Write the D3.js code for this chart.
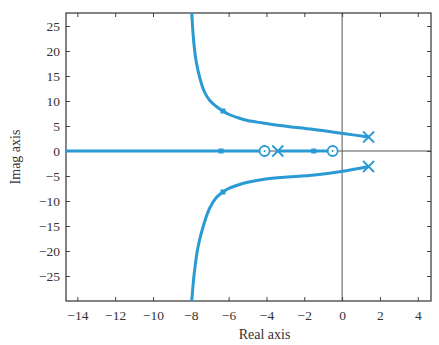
<!DOCTYPE html>
<html><head><meta charset="utf-8">
<script src="https://cdn.jsdelivr.net/npm/d3@7"></script>
<style>
html,body{margin:0;padding:0;background:#fff;}
svg text{font-family:"Liberation Serif","DejaVu Serif",serif;fill:#333;}
</style></head>
<body>
<svg id="chart" width="439" height="345"></svg>
<script>
// ---- data ----
const xTicks = [-14,-12,-10,-8,-6,-4,-2,0,2,4];
const yTicks = [-25,-20,-15,-10,-5,0,5,10,15,20,25];
const upperRe = [-7.95,-7.85,-7.72,-7.55,-7.3,-7.0,-6.65,-6.3,-6.0,-5.5,-5.0,-4.2,-3.3,-1.5,0.05,1.4];
const upperIm = [27.6,22,18,15,12,10.1,8.9,8.0,7.35,6.65,6.1,5.6,5.1,4.3,3.5,2.8];
const lowerRe = [-7.95,-7.82,-7.62,-7.3,-7.0,-6.65,-6.3,-6.0,-5.5,-4.93,-4.2,-3.2,-1.45,-0.05,1.4];
const lowerIm = [-30,-24.5,-19.2,-14.5,-11.4,-9.3,-8.2,-7.5,-6.8,-6.2,-5.7,-5.3,-4.8,-4.1,-3.1];
const realBranch1Re = [-14.6,-4.1];
const realBranch2Re = [-3.4,-0.5];
const poleRe = [1.4,1.4,-3.4];
const poleIm = [2.8,-3.1,0];
const zeroRe = [-4.1,-0.5];
const zeroIm = [0,0];
const gainRe = [-6.3,-6.3,-6.4,-1.5];
const gainIm = [8.0,-8.2,0,0];

// ---- layout ----
const svg = d3.select("#chart");
const L = 66, R = 431, T = 13, B = 301;
const x = d3.scaleLinear().domain([-14.6,4.7]).range([L,R]);
const y = d3.scaleLinear().domain([-30,27.6]).range([B,T]);
const blue = "#2a9ad4";

svg.append("defs").append("clipPath").attr("id","clip")
  .append("rect").attr("x",L).attr("y",T).attr("width",R-L).attr("height",B-T);

// zero axes
svg.append("line").attr("x1",x(0)).attr("x2",x(0)).attr("y1",T).attr("y2",B)
  .attr("stroke","#555").attr("stroke-width",1);
svg.append("line").attr("x1",L).attr("x2",R).attr("y1",y(0)).attr("y2",y(0))
  .attr("stroke","#555").attr("stroke-width",1);

// axes
const tickLen = 4;
const gx = svg.append("g").attr("transform",`translate(0,${B})`)
  .call(d3.axisBottom(x).tickValues(xTicks).tickSize(-tickLen).tickPadding(9)
    .tickFormat(d => d<0 ? "\u2212"+Math.abs(d) : d));
const gxt = svg.append("g").attr("transform",`translate(0,${T})`)
  .call(d3.axisTop(x).tickValues(xTicks).tickSize(-tickLen).tickFormat(""));
const gy = svg.append("g").attr("transform",`translate(${L},0)`)
  .call(d3.axisLeft(y).tickValues(yTicks).tickSize(-tickLen).tickPadding(6)
    .tickFormat(d => d<0 ? "\u2212"+Math.abs(d) : d));
const gyr = svg.append("g").attr("transform",`translate(${R},0)`)
  .call(d3.axisRight(y).tickValues(yTicks).tickSize(-tickLen).tickFormat(""));
[gx,gxt,gy,gyr].forEach(g=>{
  g.select(".domain").remove();
  g.selectAll(".tick line").attr("stroke","#444");
  g.selectAll("text").attr("font-size",13.5).attr("fill","#333")
    .style("font-family","'Liberation Serif',serif");
});
svg.append("rect").attr("x",L).attr("y",T).attr("width",R-L).attr("height",B-T)
  .attr("fill","none").attr("stroke","#333").attr("stroke-width",1.2);

// locus branches
const plot = svg.append("g").attr("clip-path","url(#clip)");
const branches = [
  d3.zip(upperRe, upperIm),
  d3.zip(lowerRe, lowerIm),
  realBranch1Re.map(r=>[r,0]),
  realBranch2Re.map(r=>[r,0])
];
const line2 = d3.line().x(d=>x(d[0])).y(d=>y(d[1])).curve(d3.curveCatmullRom.alpha(0.5));
plot.selectAll("path.branch").data(branches).join("path").attr("class","branch")
  .attr("d",line2).attr("fill","none").attr("stroke",blue).attr("stroke-width",3)
  .attr("stroke-linecap","round");

// gain markers
plot.selectAll("rect.gain").data(d3.zip(gainRe,gainIm)).join("rect").attr("class","gain")
  .attr("x",d=>x(d[0])-2.5).attr("y",d=>y(d[1])-2.5).attr("width",5).attr("height",5)
  .attr("fill",blue);

// poles (x)
const s = 5.5;
const poles = svg.append("g");
d3.zip(poleRe,poleIm).forEach(d=>{
  const cx = x(d[0]), cy = y(d[1]);
  poles.append("path")
    .attr("d",`M${cx-s},${cy-s}L${cx+s},${cy+s}M${cx-s},${cy+s}L${cx+s},${cy-s}`)
    .attr("stroke",blue).attr("stroke-width",1.8).attr("fill","none");
});
// zeros (o)
const zeros = svg.append("g");
d3.zip(zeroRe,zeroIm).forEach(d=>{
  zeros.append("circle").attr("cx",x(d[0])).attr("cy",y(d[1])).attr("r",5)
    .attr("fill","#fff").attr("stroke",blue).attr("stroke-width",1.8);
  zeros.append("circle").attr("cx",x(d[0])).attr("cy",y(d[1])).attr("r",1)
    .attr("fill",blue);
});

// axis titles
svg.append("text").attr("x",(L+R)/2+16).attr("y",339).attr("text-anchor","middle")
  .attr("font-size",14).text("Real axis");
svg.append("text").attr("transform",`translate(20,${(T+B)/2}) rotate(-90)`)
  .attr("text-anchor","middle").attr("font-size",14).text("Imag axis");
</script>
</body></html>
